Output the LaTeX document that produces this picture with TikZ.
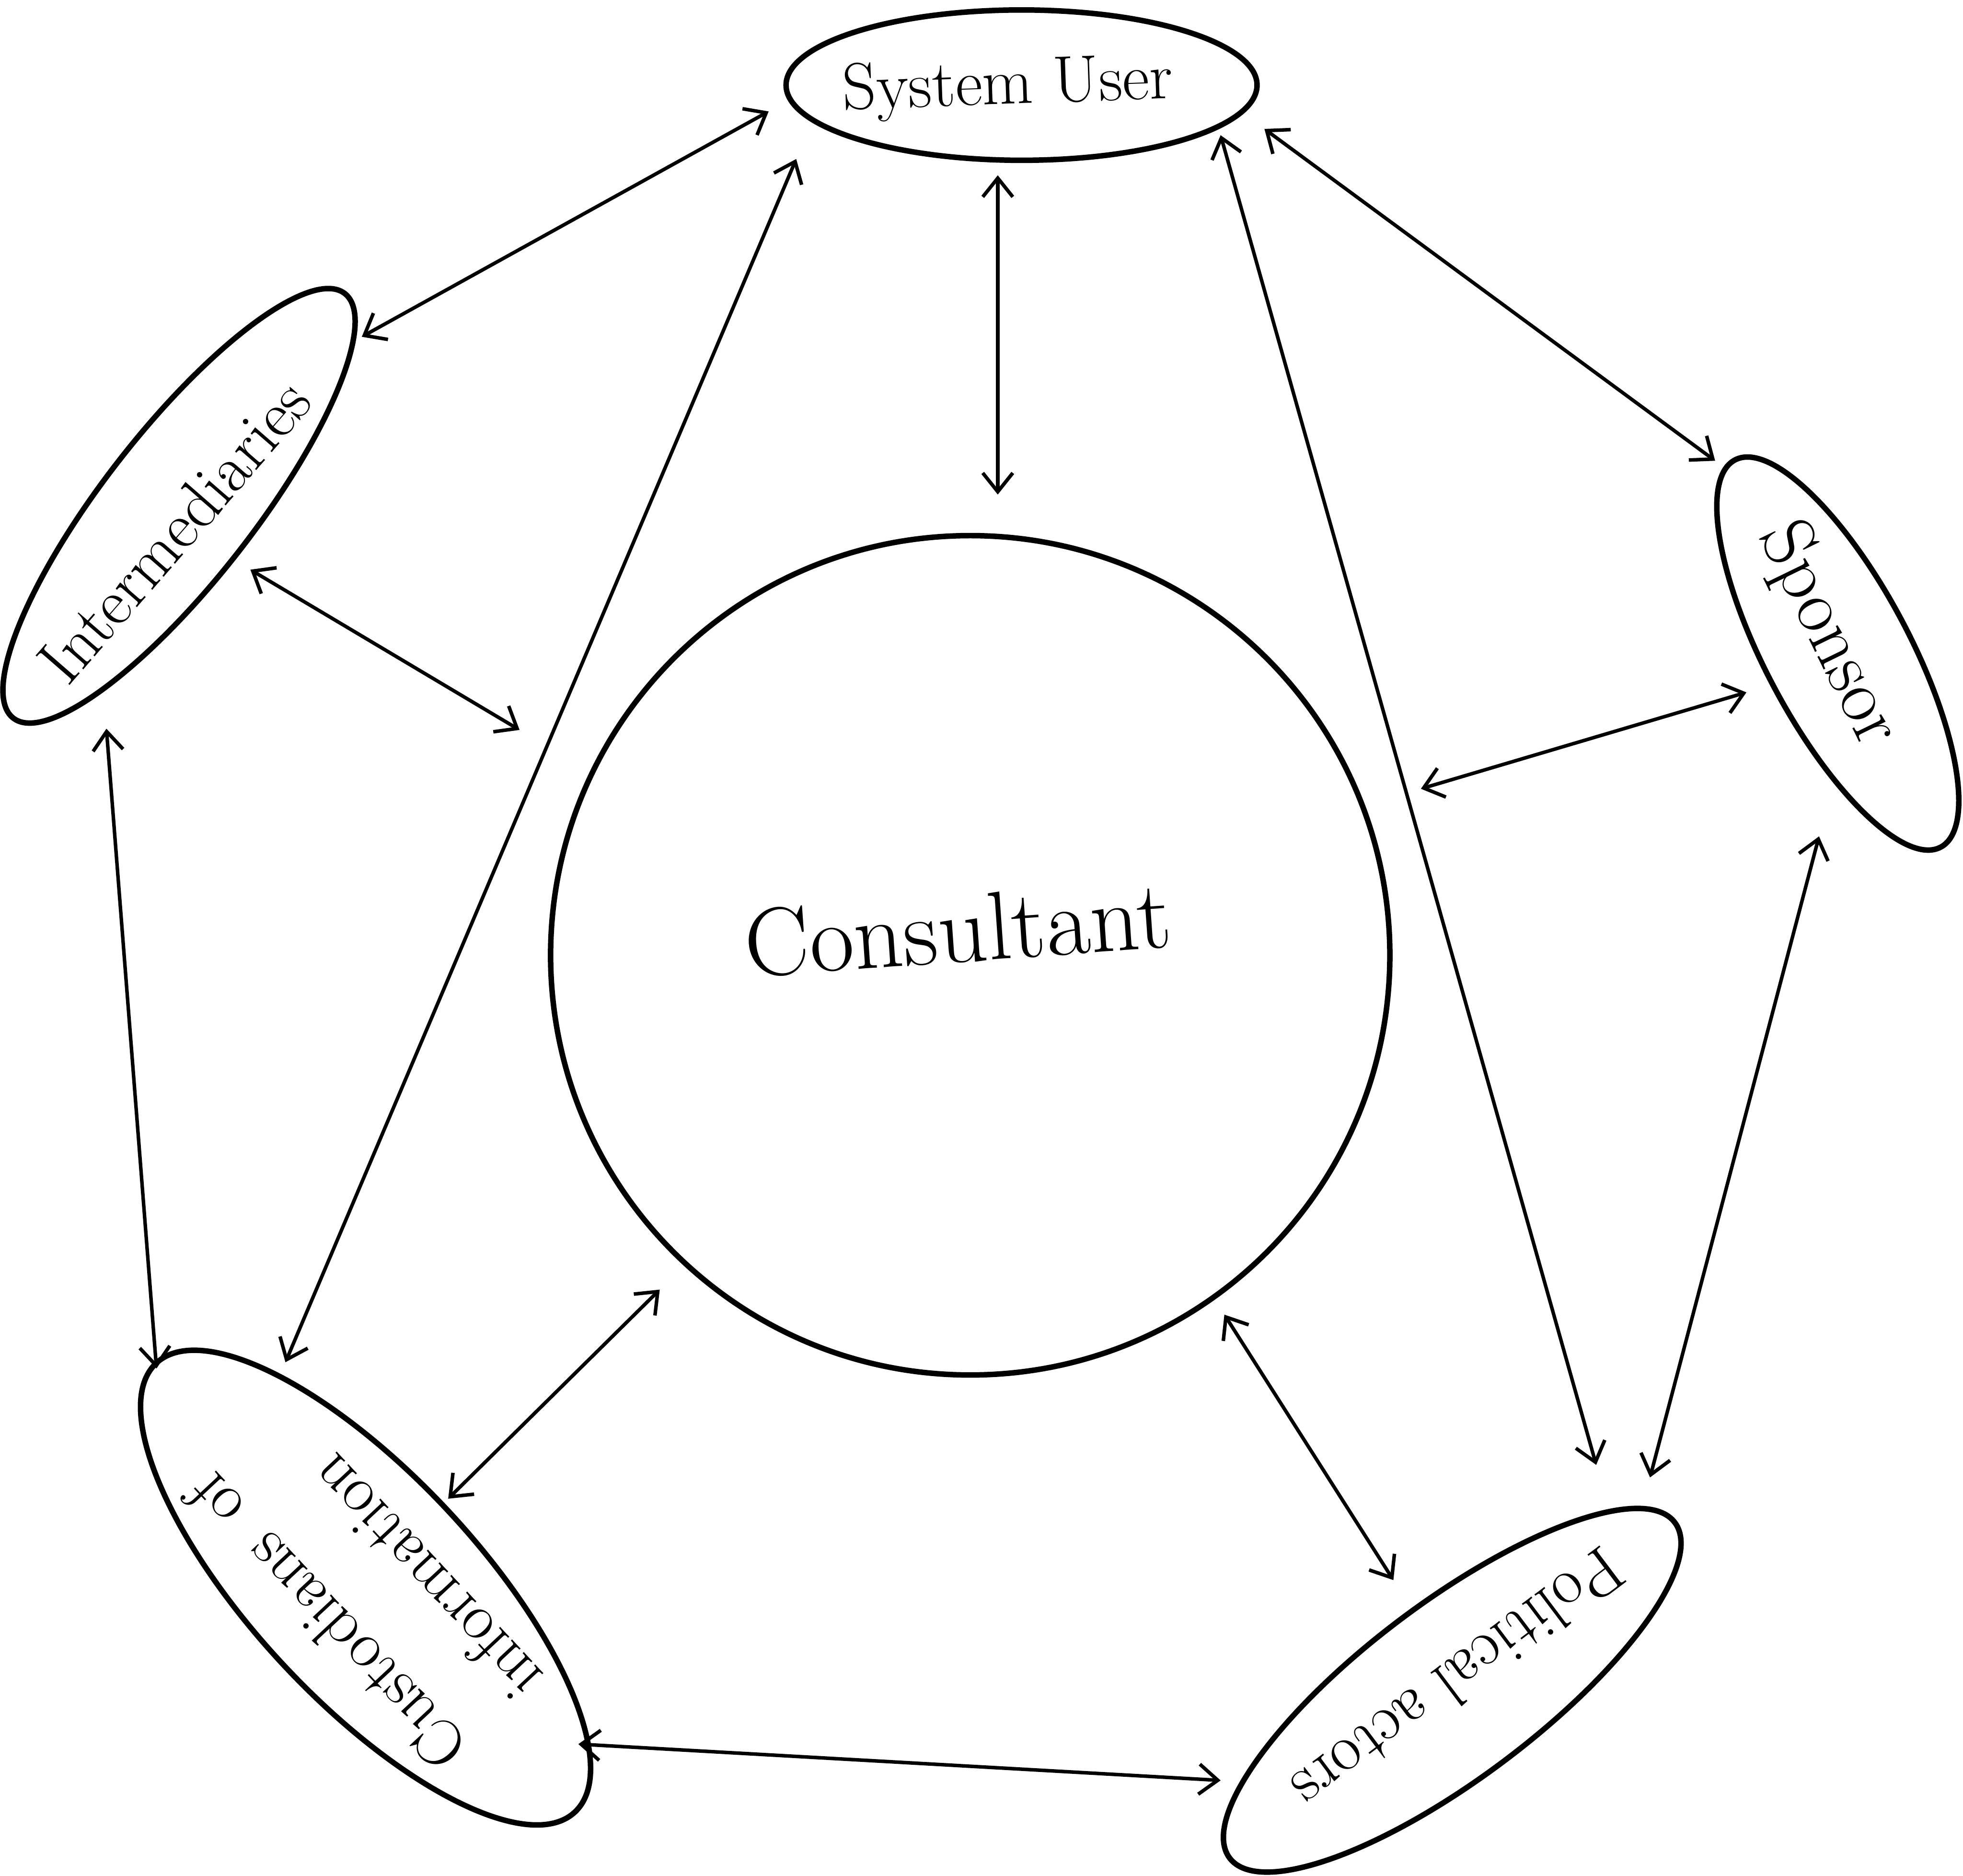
\documentclass[tikz,border=0pt]{standalone}
\usetikzlibrary{arrows.meta,shapes.geometric}
\begin{document}
\begin{tikzpicture}[x=0.01cm,y=-0.01cm,
  actor/.style={draw,ellipse,line width=1.25pt,inner sep=0pt},
  hand/.style={inner sep=0pt,font=\fontsize{15}{19}\selectfont},
  link/.style={line width=0.8pt,
    {Straight Barb[length=1.5mm,width=2.4mm]}-{Straight Barb[length=1.5mm,width=2.4mm]}}
]
\useasboundingbox (0,0) rectangle (1568,1498);

% the six parties
\node[actor,minimum width=3.76cm,minimum height=1.2cm] (su) at (816,68) {};
\node[actor,rotate=52,minimum width=4.3cm,minimum height=1.2cm] (int) at (143,404) {};
\node[actor,rotate=-62,minimum width=3.5cm,minimum height=1.15cm] (spo) at (1468,522) {};
\node[draw,circle,line width=1.25pt,minimum size=6.7cm,inner sep=0pt] (con) at (775,763) {};
\node[actor,rotate=133,minimum width=4.9cm,minimum height=1.8cm] (cus) at (292,1268) {};
\node[actor,rotate=217,minimum width=4.45cm,minimum height=1.4cm] (pol) at (1160,1350) {};

% their names
\node[hand,rotate=2] (su-t) at (805,70) {System User};
\node[hand,rotate=49] (int-t) at (139,424) {Intermediaries};
\node[hand,rotate=-64,font=\fontsize{17}{20}\selectfont] (spo-t) at (1460,507) {Sponsor};
\node[hand,rotate=4,font=\fontsize{22}{26}\selectfont] (con-t) at (765,742) {Consultant};
\node[hand,rotate=133,align=left,font=\fontsize{15}{23}\selectfont] (cus-t) at (290,1268)
  {Custodians\enspace of\\information};
\node[hand,rotate=217] (pol-t) at (1165,1342) {Political actors};

% end points of the links, beside each party
\coordinate (su-a) at (614,89);
\coordinate (su-b) at (636,127);
\coordinate (su-c) at (797,140);
\coordinate (su-d) at (975,108);
\coordinate (su-e) at (1010,103);
\coordinate (int-a) at (289,269);
\coordinate (int-b) at (200,455);
\coordinate (int-c) at (85,582);
\coordinate (spo-a) at (1370,368);
\coordinate (spo-b) at (1395,553);
\coordinate (spo-c) at (1453,668);
\coordinate (con-a) at (797,395);
\coordinate (con-b) at (415,583);
\coordinate (con-c) at (1135,630);
\coordinate (con-d) at (527,1030);
\coordinate (con-e) at (978,1050);
\coordinate (cus-a) at (228,1088);
\coordinate (cus-b) at (125,1093);
\coordinate (cus-c) at (358,1197);
\coordinate (cus-d) at (462,1393);
\coordinate (pol-a) at (1275,1170);
\coordinate (pol-b) at (1318,1180);
\coordinate (pol-c) at (1113,1262);
\coordinate (pol-d) at (975,1422);

% two-way relations
\draw[link] (su-a) -- (int-a);
\draw[link] (su-b) -- (cus-a);
\draw[link] (su-c) -- (con-a);
\draw[link] (su-d) -- (pol-a);
\draw[link] (su-e) -- (spo-a);
\draw[link] (int-b) -- (con-b);
\draw[link] (int-c) -- (cus-b);
\draw[link] (spo-b) -- (con-c);
\draw[link] (spo-c) -- (pol-b);
\draw[link] (con-d) -- (cus-c);
\draw[link] (con-e) -- (pol-c);
\draw[link] (cus-d) -- (pol-d);
\end{tikzpicture}
\end{document}
